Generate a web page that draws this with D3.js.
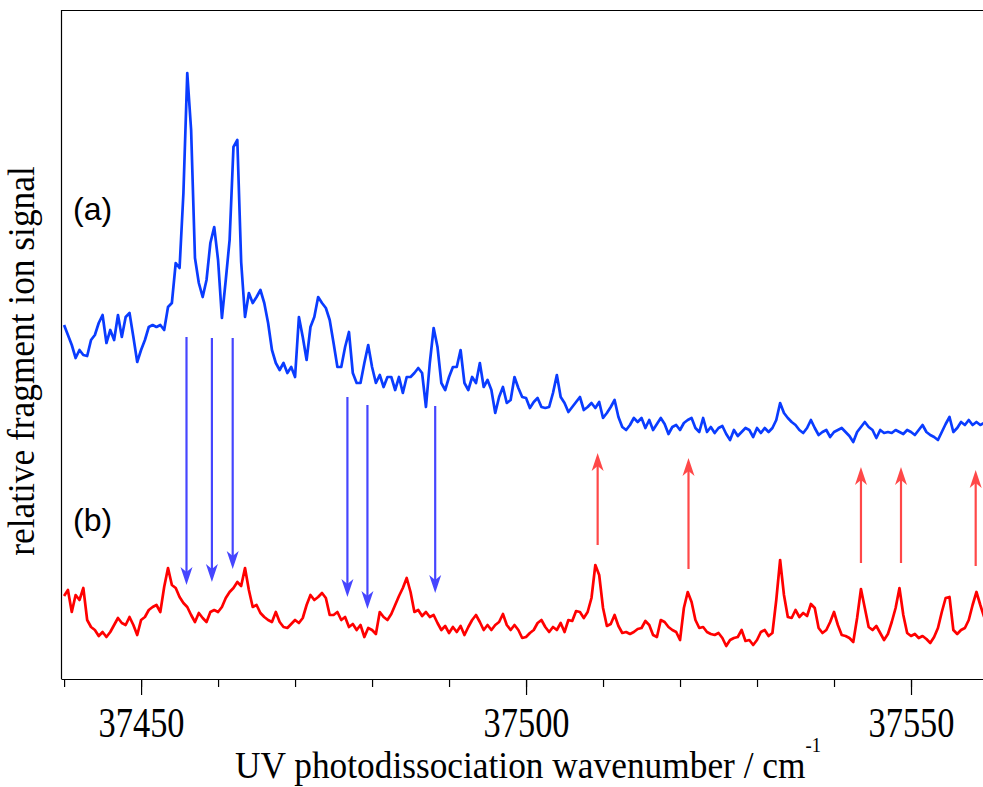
<!DOCTYPE html>
<html>
<head>
<meta charset="utf-8">
<script src="https://cdn.jsdelivr.net/npm/d3@7"></script>
<style>
  body { margin: 0; background: #fff; }
  svg { display: block; }
</style>
</head>
<body>
<svg id="chart" width="983" height="787"></svg>
<script>
// wavenumber grid, 0.5 cm-1 steps from 37440
var wavenumber = d3.range(240).map(function(i) { return 37440 + i * 0.5; });

// (a) upper trace, arbitrary units
var traceA = [35.4,34.4,33.4,32.1,32.9,32.4,32.3,33.9,34.4,35.6,
  36.4,33.6,34.9,33.9,36.4,34.2,36.2,36.6,34.2,31.7,
  32.9,33.9,35.2,35.4,35.2,35.4,34.9,37.2,37.6,41.6,
  41.1,48.6,60.6,54.9,42.1,39.6,38.2,39.9,43.6,45.2,
  41.9,36.1,39.9,43.9,53.2,53.9,41.7,36.2,38.6,37.6,
  38.2,38.9,37.6,35.6,32.9,31.6,30.9,31.6,30.6,31.2,
  30.2,36.2,34.2,31.9,35.2,36.2,38.2,37.6,37.1,35.9,
  33.6,31.2,31.2,33.2,34.7,30.6,29.6,29.6,31.6,33.4,
  31.2,29.6,30.4,29.2,30.2,30.2,28.9,30.2,28.6,30.2,
  30.2,30.6,31.1,30.6,27.2,31.6,35.1,33.2,29.6,28.9,
  30.2,31.2,31.2,32.9,29.6,28.9,30.2,29.6,31.6,29.2,
  29.9,28.9,26.6,28.2,29.2,27.6,27.9,30.2,29.1,28.2,
  28.1,27.1,27.7,28.1,27.2,27.1,27.2,28.6,30.4,28.2,
  27.6,26.7,27.2,27.7,28.2,26.9,27.2,27.6,27.1,27.7,
  26.1,26.6,27.2,27.9,26.2,25.2,24.9,25.4,26.1,25.7,
  26.1,25.1,25.9,24.9,25.5,26.1,25.5,24.5,25.2,25.4,
  24.9,25.6,25.9,26.1,25.1,24.7,26.1,24.7,25.2,24.6,
  25.1,25.3,24.5,23.9,24.9,24.3,24.7,25.1,24.9,24.2,
  25.1,24.6,25.1,24.7,25.1,25.9,27.6,26.6,26.1,25.7,
  25.4,24.9,24.6,25.1,25.9,25.1,24.4,24.7,24.9,24.2,
  24.7,24.9,25.1,24.7,24.3,23.7,24.7,25.2,25.7,25.2,
  24.9,24.1,24.9,24.6,24.7,24.6,24.9,24.7,24.5,24.9,
  24.7,24.4,24.9,25.4,24.7,24.4,24.2,23.9,24.7,25.5,
  26.2,24.7,25.1,25.7,25.4,25.9,25.4,25.7,25.4,25.6];

// (b) lower trace, arbitrary units
var traceB = [8.3,8.9,6.7,8.4,7.9,9.1,5.9,5.2,4.9,4.3,
  4.7,4.2,4.7,5.4,6.1,5.6,5.4,6.2,5.4,4.4,
  5.9,6.2,6.9,7.2,7.4,6.7,9.2,11.1,9.4,9.1,
  8.2,7.6,7.2,6.4,5.7,6.6,6.1,5.7,6.7,6.9,
  6.7,7.2,8.1,8.7,9.1,9.7,9.3,11.1,8.9,7.2,
  7.4,6.6,6.2,5.9,5.7,6.7,5.7,5.2,5.1,5.5,
  5.9,5.6,6.1,7.4,8.4,7.9,8.2,8.6,8.1,6.4,
  6.4,6.7,5.9,6.2,5.2,5.5,4.9,5.4,4.2,5.1,
  4.9,4.5,6.7,6.2,5.9,6.5,7.4,8.3,9.1,10.1,
  8.7,6.7,6.9,6.3,6.7,6.2,6.4,5.6,4.9,5.3,
  4.6,5.2,4.7,5.3,4.4,5.2,5.9,6.4,5.7,4.9,
  5.4,4.9,5.4,5.7,6.5,5.4,4.9,5.4,4.9,4.1,
  4.2,4.6,4.9,5.6,5.9,5.2,4.7,5.2,4.9,5.6,
  4.7,5.9,5.8,6.8,6.7,6.1,6.7,8.1,11.4,10.4,
  7.1,5.3,5.5,6.4,5.3,4.6,4.7,4.5,4.7,5.0,
  5.1,5.8,5.4,4.4,4.2,5.9,5.7,5.2,4.9,4.7,
  3.9,7.1,8.7,7.7,5.9,5.1,5.2,4.7,4.5,4.4,
  4.6,4.1,3.3,3.9,4.1,4.2,4.9,3.8,3.9,3.4,
  3.9,4.7,4.9,4.3,4.6,7.9,11.9,8.4,6.2,6.1,
  6.9,6.2,6.6,6.3,7.5,7.1,5.1,4.6,4.9,5.7,
  6.7,5.4,4.4,4.3,4.1,3.7,6.1,9.0,7.1,5.2,
  4.9,5.3,4.6,3.9,4.5,5.7,7.1,9.1,6.4,4.6,
  4.3,4.5,4.1,4.3,4.0,3.6,4.2,5.1,6.7,8.1,
  8.2,4.9,4.5,4.9,5.1,5.9,7.4,8.7,7.4,6.2];

// arrows: wavenumber, start and end signal
var downArrowPos = [37455.9, 37459.2, 37461.9, 37476.8, 37479.4, 37488.2];
var downArrowFrom = [34.2, 34.1, 34.1, 28.2, 27.4, 27.3];
var downArrowTo = [9.4, 9.7, 11.0, 8.2, 7.0, 8.6];
var upArrowPos = [37509.3, 37521.1, 37543.5, 37548.7, 37558.4];
var upArrowFrom = [13.4, 11.0, 11.6, 11.6, 11.3];
var upArrowTo = [22.6, 22.1, 21.2, 21.2, 20.9];

var minorTicks = d3.range(37440, 37560, 10);
var majorTicks = [37450, 37500, 37550];

(function() {
  var svg = d3.select("#chart");
  var m = { left: 61, right: 983, top: 10, bottom: 679 };

  var x = d3.scaleLinear().domain([37439.6, 37559.35]).range([m.left, m.right]);
  var y = d3.scaleLinear().domain([0, 66.9]).range([m.bottom, m.top]);

  svg.append("defs").append("clipPath").attr("id", "plotclip")
    .append("rect").attr("x", m.left).attr("y", m.top)
    .attr("width", m.right - m.left).attr("height", m.bottom - m.top);

  // frame
  svg.append("line").attr("x1", m.left + 0.5).attr("x2", m.left + 0.5)
    .attr("y1", m.top).attr("y2", m.bottom).attr("stroke", "#000").attr("stroke-width", 1.2);
  svg.append("line").attr("x1", m.left).attr("x2", m.right)
    .attr("y1", m.top + 0.5).attr("y2", m.top + 0.5).attr("stroke", "#000").attr("stroke-width", 1.2);

  // x axis, minor then major ticks
  svg.append("g").attr("transform", "translate(0," + m.bottom + ")")
    .call(d3.axisBottom(x).tickValues(minorTicks).tickSize(8).tickSizeOuter(0).tickFormat(""))
    .call(function(g) { g.selectAll("path,line").attr("stroke", "#000").attr("stroke-width", 1.2); });

  var major = svg.append("g").attr("transform", "translate(0," + m.bottom + ")")
    .call(d3.axisBottom(x).tickValues(majorTicks).tickSize(16).tickSizeOuter(0).tickFormat(d3.format("d")));
  major.select(".domain").remove();
  major.selectAll("line").attr("stroke", "#000").attr("stroke-width", 1.2);
  major.selectAll("text")
    .attr("y", 58).attr("dy", 0)
    .attr("transform", "scale(0.8,1)")
    .attr("fill", "#000")
    .style("font-family", "'Liberation Serif', 'Times New Roman', serif")
    .style("font-size", "43px");

  // axis titles
  var xt = svg.append("text")
    .attr("transform", "translate(235,778) scale(0.93,1)")
    .style("font-family", "'Liberation Serif', 'Times New Roman', serif")
    .style("font-size", "38px");
  xt.append("tspan").text("UV photodissociation wavenumber / cm");
  xt.append("tspan").attr("dy", -26).style("font-size", "20px").text("-1");

  svg.append("text")
    .attr("transform", "translate(34,361) rotate(-90) scale(0.93,1)")
    .attr("text-anchor", "middle")
    .style("font-family", "'Liberation Serif', 'Times New Roman', serif")
    .style("font-size", "38px")
    .text("relative fragment ion signal");

  // traces
  var line = d3.line()
    .x(function(d) { return x(d[0]); })
    .y(function(d) { return y(d[1]); });

  var plot = svg.append("g").attr("clip-path", "url(#plotclip)");

  plot.append("path").datum(d3.zip(wavenumber, traceA))
    .attr("d", line).attr("fill", "none")
    .attr("stroke", "#0a3cff").attr("stroke-width", 2.7).attr("stroke-linejoin", "round");

  plot.append("path").datum(d3.zip(wavenumber, traceB))
    .attr("d", line).attr("fill", "none")
    .attr("stroke", "#ff0000").attr("stroke-width", 2.7).attr("stroke-linejoin", "round");

  // arrows
  function drawArrows(pos, from, to, colour) {
    var g = plot.append("g");
    d3.zip(pos, from, to).forEach(function(d) {
      var px = x(d[0]), y0 = y(d[1]), y1 = y(d[2]);
      var s = y1 > y0 ? 1 : -1;   // +1 pointing down
      g.append("line").attr("x1", px).attr("x2", px)
        .attr("y1", y0).attr("y2", y1 - s * 12)
        .attr("stroke", colour).attr("stroke-width", 2.2);
      g.append("path")
        .attr("d", "M" + px + "," + y1 +
          "L" + (px - 6) + "," + (y1 - s * 18) +
          "L" + px + "," + (y1 - s * 13) +
          "L" + (px + 6) + "," + (y1 - s * 18) + "Z")
        .attr("fill", colour);
    });
  }
  drawArrows(downArrowPos, downArrowFrom, downArrowTo, "#4646ff");
  drawArrows(upArrowPos, upArrowFrom, upArrowTo, "#ff4848");

  // panel labels
  svg.append("text").attr("x", 73).attr("y", 220)
    .style("font-family", "'Liberation Sans', Arial, sans-serif").style("font-size", "32px")
    .text("(a)");
  svg.append("text").attr("x", 73).attr("y", 531)
    .style("font-family", "'Liberation Sans', Arial, sans-serif").style("font-size", "32px")
    .text("(b)");
})();
</script>
</body>
</html>
